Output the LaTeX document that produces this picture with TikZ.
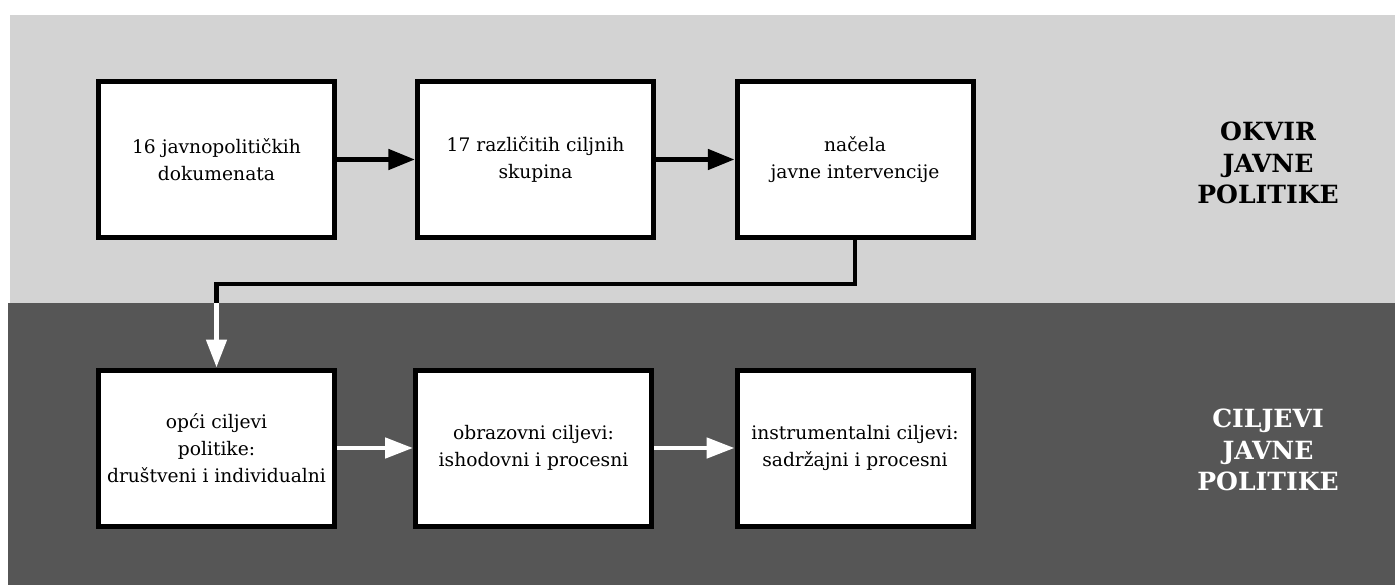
\documentclass[tikz,border=0pt]{standalone}
\usepackage{fontspec}
\setmainfont{DejaVu Serif}
\usetikzlibrary{arrows.meta}
\definecolor{bandlight}{HTML}{D3D3D3}
\definecolor{banddark}{HTML}{565656}
\tikzset{
  box/.style={draw=black, line width=3.75pt, fill=white, minimum width=177pt, minimum height=117pt,
    inner sep=0pt, align=center, font=\fontsize{14}{20.5}\selectfont},
  blackarrow/.style={line width=3.6pt, -{Triangle[length=20pt,width=15pt]}},
  whitearrow/.style={draw=white, line width=3.6pt, -{Triangle[length=21pt,width=15pt]}},
  blackline/.style={line width=3.6pt},
  title/.style={align=center, font=\bfseries\fontsize{18.8}{23.5}\selectfont}
}
\begin{document}
\begin{tikzpicture}[x=0.75pt, y=-0.75pt]
\useasboundingbox (0,0) rectangle (1395,585);
\fill[white] (0,0) rectangle (1395,585);
\fill[bandlight] (10,15) rectangle (1395,303);
\fill[banddark] (8,303) rectangle (1395,585);

\node[box] (b1) at (216.5,159.5) {16 javnopolitičkih\\dokumenata};
\node[box] (b2) at (535.5,159.5) {17 različitih ciljnih\\skupina};
\node[box] (b3) at (855,159.5) {načela\\javne intervencije};

\node[box] (b4) at (216.5,448) {opći ciljevi\\politike:\\društveni i individualni};
\node[box] (b5) at (533.5,448) {obrazovni ciljevi:\\ishodovni i procesni};
\node[box] (b6) at (855,448) {instrumentalni ciljevi:\\sadržajni i procesni};

\node[title] (t1) at (1268,163) {OKVIR\\JAVNE\\POLITIKE};
\node[title, text=white] (t2) at (1268,450) {CILJEVI\\JAVNE\\POLITIKE};

\draw[blackarrow] (b1) -- (b2);
\draw[blackarrow] (b2) -- (b3);

\coordinate (bend) at (216.5,303);
\draw[blackline] (b3.south) -- ++(0,44) -| (bend);
\draw[whitearrow] (bend) -- (b4.north);

\draw[whitearrow] (b4) -- (b5);
\draw[whitearrow] (b5) -- (b6);
\end{tikzpicture}
\end{document}
